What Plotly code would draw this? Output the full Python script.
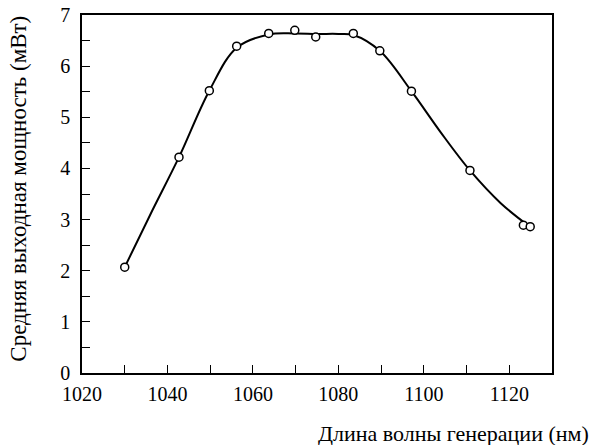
import plotly.graph_objects as go

# Measured points
wavelength_nm = [1030.0, 1042.7, 1049.8, 1056.2, 1063.7, 1069.8, 1074.7, 1083.5, 1089.7, 1097.1, 1110.8, 1123.3, 1124.9]
power_mw = [2.07, 4.22, 5.52, 6.39, 6.64, 6.70, 6.57, 6.64, 6.30, 5.51, 3.96, 2.89, 2.86]

# Smooth curve
curve_x = [1030.0, 1036.0, 1042.7, 1049.8, 1056.2, 1063.7, 1069.8, 1075.0, 1080.0, 1083.5, 1089.7, 1097.1, 1104.0, 1110.8, 1118.0, 1124.5]
curve_y = [2.07, 3.10, 4.22, 5.52, 6.36, 6.62, 6.64, 6.63, 6.63, 6.61, 6.30, 5.51, 4.70, 3.96, 3.32, 2.88]

x_title = "Длина волны генерации (нм)"
y_title = "Средняя выходная мощность (мВт)"

FONT = "Liberation Serif, Roboto, sans-serif"

fig = go.Figure()
fig.add_trace(go.Scatter(
    x=curve_x, y=curve_y, mode="lines",
    line=dict(color="black", width=2, shape="spline", smoothing=1.0),
    hoverinfo="skip", showlegend=False,
))
fig.add_trace(go.Scatter(
    x=wavelength_nm, y=power_mw, mode="markers",
    marker=dict(symbol="circle", size=8, color="white",
                line=dict(color="black", width=1.5)),
    showlegend=False,
))

axis_common = dict(
    showgrid=False, zeroline=False, showline=True, linecolor="black",
    linewidth=1.5, mirror=True, ticks="inside", ticklen=8, tickwidth=1.3,
    tickcolor="black", automargin=False, ticklabeloverflow="allow",
    tickfont=dict(family=FONT, size=20, color="black"),
)

fig.update_xaxes(range=[1020, 1130], tickmode="linear", tick0=1020, dtick=20,
                 minor=dict(ticks="inside", dtick=10, ticklen=8, tickwidth=1.3, tickcolor="black"),
                 ticklabelstandoff=2, **axis_common)
fig.update_yaxes(range=[0, 7], tickmode="linear", tick0=0, dtick=1,
                 minor=dict(ticks="inside", dtick=0.5, ticklen=8, tickwidth=1.3, tickcolor="black"),
                 ticklabelstandoff=6, **axis_common)

fig.add_annotation(text=x_title, xref="paper", yref="paper", x=1.083, y=-0.168,
                   xanchor="right", yanchor="middle", showarrow=False,
                   font=dict(family=FONT, size=22, color="black"))
fig.add_annotation(text=y_title, xref="paper", yref="paper", x=-0.134, y=0.515,
                   xanchor="center", yanchor="middle", showarrow=False, textangle=-90,
                   font=dict(family=FONT, size=23, color="black"))

# page body has an 8px default margin; figure is shrunk by that offset
fig.update_layout(
    width=593, height=437,
    margin=dict(l=74, r=49, t=7, b=72, autoexpand=False),
    plot_bgcolor="white", paper_bgcolor="white",
    font=dict(family=FONT, color="black"),
)

fig.write_html("out.html")
